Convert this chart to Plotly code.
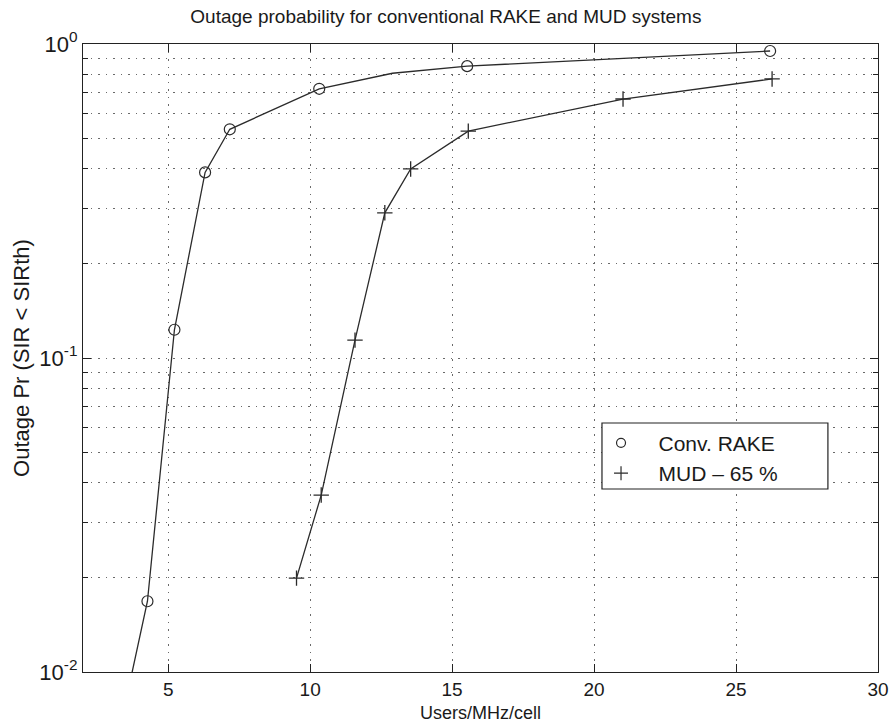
import plotly.graph_objects as go

# Conventional RAKE receiver: all line vertices, and which of them carry a marker
rake_users = [3.5, 4.27, 5.22, 6.30, 7.17, 10.32, 12.9, 15.53, 26.2]
rake_outage = [0.008, 0.0168, 0.123, 0.39, 0.535, 0.72, 0.807, 0.85, 0.95]
rake_marked = [False, True, True, True, True, True, False, True, True]

# Multi-user detection with 65 % efficiency
mud_users = [9.52, 10.39, 11.58, 12.63, 13.54, 15.57, 21.02, 26.27]
mud_outage = [0.0199, 0.0366, 0.114, 0.29, 0.40, 0.528, 0.668, 0.774]

x_ticks = [5, 10, 15, 20, 25, 30]
y_ticks = [0.01, 0.1, 1]
y_exponents = ["-2", "-1", "0"]
y_minor = [m * d for d in (0.01, 0.1) for m in range(2, 10)]

line_color = "#2b2b2b"
grid_color = "#6a6a6a"
grid_dash = "1.5px,6px"
font_family = "Liberation Sans, Arial, sans-serif"
pad = "\u00a0\u00a0\u00a0"

# Decade labels: 10 with a superscript exponent
y_ticktext = ["10<sup>%s</sup>" % e for e in y_exponents]

fig = go.Figure()

fig.add_trace(go.Scatter(
    x=rake_users, y=rake_outage, mode="lines",
    line=dict(color=line_color, width=1.3), showlegend=False, hoverinfo="skip",
))
fig.add_trace(go.Scatter(
    x=[x for x, m in zip(rake_users, rake_marked) if m],
    y=[y for y, m in zip(rake_outage, rake_marked) if m],
    mode="markers", name="Conv. RAKE",
    marker=dict(symbol="circle-open", size=11, color=line_color,
                line=dict(width=1.2, color=line_color)),
    showlegend=False,
))
fig.add_trace(go.Scatter(
    x=mud_users, y=mud_outage, mode="lines+markers", name="MUD \u2013 65 %",
    line=dict(color=line_color, width=1.3),
    marker=dict(symbol="cross-thin-open", size=11, color=line_color,
                line=dict(width=1.3, color=line_color)),
    showlegend=False,
))

# Legend entries show the marker symbol only
fig.add_trace(go.Scatter(
    x=[None], y=[None], mode="markers", name=pad + "Conv. RAKE",
    marker=dict(symbol="circle-open", size=9, color=line_color,
                line=dict(width=1.2, color=line_color)),
))
fig.add_trace(go.Scatter(
    x=[None], y=[None], mode="markers", name=pad + "MUD \u2013 65 %",
    marker=dict(symbol="cross-thin-open", size=10, color=line_color,
                line=dict(width=1.2, color=line_color)),
))

# Legend frame (white fill hides the grid behind it)
fig.add_shape(type="rect", xref="paper", yref="paper",
              x0=0.6528, x1=0.937, y0=0.2914, y1=0.3965,
              line=dict(color="#222", width=1.2), fillcolor="white", layer="above")

fig.update_layout(
    width=890, height=724,
    margin=dict(l=83, r=12, t=44, b=52, autoexpand=False),
    paper_bgcolor="white", plot_bgcolor="white",
    font=dict(family=font_family, size=18, color="#1a1a1a"),
    title=dict(text="Outage probability for conventional RAKE and MUD systems",
               x=0.501, xref="container", xanchor="center",
               y=0.977, yref="container", yanchor="middle",
               font=dict(size=19)),
    showlegend=True,
    legend=dict(x=0.6516, y=0.397, xanchor="left", yanchor="top",
                bgcolor="rgba(0,0,0,0)", borderwidth=0,
                font=dict(size=21), itemwidth=30, tracegroupgap=0),
    xaxis=dict(
        range=[2, 30], tickvals=x_ticks, ticks="inside", ticklen=8,
        tickcolor="#222", showline=True, linecolor="#222", linewidth=1.2,
        mirror="allticks", showgrid=True, gridcolor=grid_color,
        griddash=grid_dash, gridwidth=1, zeroline=False, automargin=False,
        ticklabeloverflow="allow",
        tickfont=dict(family=font_family, size=19, color="#1a1a1a"),
        title=dict(text="Users/MHz/cell", standoff=7, font=dict(size=18)),
    ),
    yaxis=dict(
        type="log", range=[-2, 0], tickvals=y_ticks, ticktext=y_ticktext,
        ticks="inside", ticklen=8, tickcolor="#222",
        showline=True, linecolor="#222", linewidth=1.2, mirror="allticks",
        showgrid=True, gridcolor=grid_color, griddash=grid_dash, gridwidth=1,
        zeroline=False, automargin=False, ticklabeloverflow="allow",
        tickfont=dict(family=font_family, size=22, color="#1a1a1a"),
        minor=dict(tickvals=y_minor, ticks="inside", ticklen=5,
                   tickcolor="#222", showgrid=True, gridcolor=grid_color,
                   griddash=grid_dash, gridwidth=1),
        title=dict(text="Outage Pr (SIR < SIRth)", standoff=3, font=dict(size=22)),
    ),
)

fig.write_html("out.html")
